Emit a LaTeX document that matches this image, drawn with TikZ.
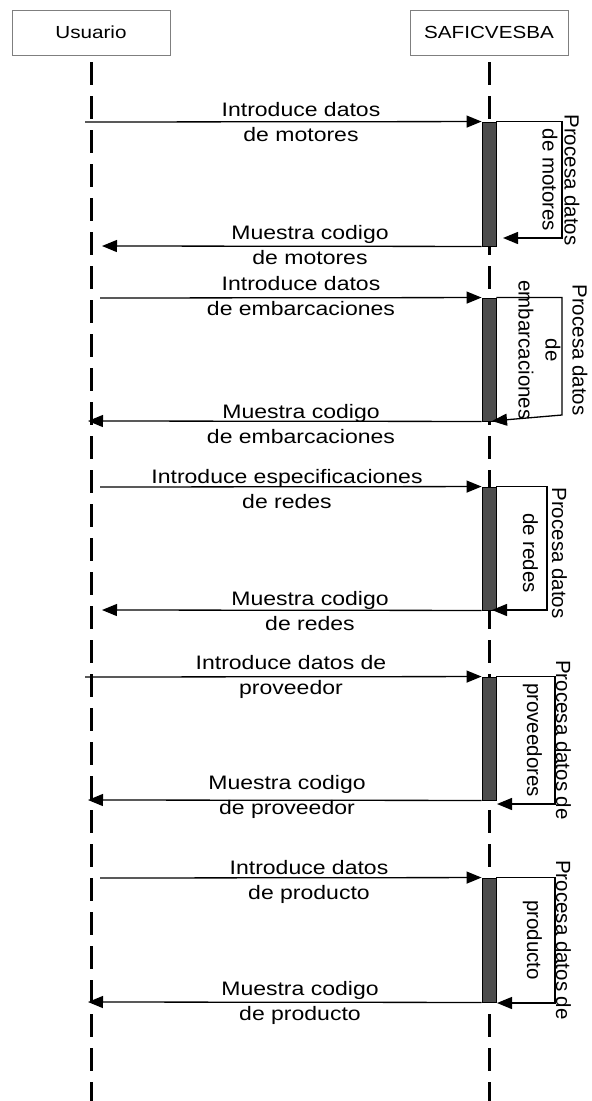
\documentclass[tikz,border=0pt]{standalone}
\usepackage{fontspec}
\setmainfont{Liberation Sans}
\newfontfamily\msgfont[FakeStretch=1.18]{Liberation Sans}
\usetikzlibrary{arrows.meta,positioning}
\definecolor{barfill}{HTML}{4D4D4D}
\definecolor{boxline}{HTML}{7F7F7F}

\begin{document}
\begin{tikzpicture}[x=1pt,y=-1pt,
  actor/.style={draw=boxline,fill=white,line width=0.8pt,minimum width=158pt,minimum height=45pt,inner sep=0pt,font=\msgfont\fontsize{17.5}{21}\selectfont},
  lifeline/.style={line width=3pt,dash pattern=on 23pt off 11pt,dash phase=27pt},
  bar/.style={draw=black,fill=barfill,line width=0.9pt,minimum width=14pt,inner sep=0pt},
  msg/.style={-{Triangle[length=15pt,width=12pt]},line width=1.3pt},
  lbl/.style={font=\msgfont\fontsize{19.5}{25}\selectfont,align=center,inner sep=0pt},
  side/.style={font=\fontsize{20.5}{29}\selectfont,align=center,inner sep=0pt,rotate=-90}]
  \useasboundingbox (0,0) rectangle (592,1101);
  % actors and lifelines
  \node[actor] (usr) at (91,32.5) {Usuario};
  \node[actor] (sys) at (489,32.5) {SAFICVESBA};
  \coordinate (usrend) at (91,1101);
  \draw[lifeline] (usr.south) -- (usrend);
  \draw[lifeline] (sys.south) -- (sys.south |- usrend);
  % activation bars
  \node[bar,minimum height=124pt] (b1) at (489,184) {};
  \node[bar,minimum height=123pt] (b2) at (489,359.5) {};
  \node[bar,minimum height=123pt] (b3) at (489,548.5) {};
  \node[bar,minimum height=123pt] (b4) at (489,738.5) {};
  \node[bar,minimum height=124pt] (b5) at (489,940) {};
  % free ends of the messages
  \coordinate (s1) at (85,122);  \coordinate (r1) at (102,246);
  \coordinate (s2) at (100,298); \coordinate (r2) at (88,421);
  \coordinate (s3) at (100,487); \coordinate (r3) at (102,610);
  \coordinate (s4) at (85,677);  \coordinate (r4) at (88,800);
  \coordinate (s5) at (100,878); \coordinate (r5) at (88,1002);
  \coordinate (k1) at (562,238);  \coordinate (t1) at (503,238);
  \coordinate (k2) at (562,415);  \coordinate (t2) at (492,421);
  \coordinate (k3) at (547,610);  \coordinate (t3) at (492,610);
  \coordinate (k4) at (555,804);  \coordinate (t4) at (497,804);
  \coordinate (k5) at (555,1003); \coordinate (t5) at (497,1003);
  % messages
  \draw[msg] (s1) -- (b1.north west); \draw[msg] (b1.south west) -- (r1);
  \draw[msg] (s2) -- (b2.north west); \draw[msg] (b2.south west) -- (r2);
  \draw[msg] (s3) -- (b3.north west); \draw[msg] (b3.south west) -- (r3);
  \draw[msg] (s4) -- (b4.north west); \draw[msg] (b4.south west) -- (r4);
  \draw[msg] (s5) -- (b5.north west); \draw[msg] (b5.south west) -- (r5);
  \draw[msg] (b1.north east) -| (k1) -- (t1);
  \draw[msg] (b2.north east) -| (k2) -- (t2);
  \draw[msg] (b3.north east) -| (k3) -- (t3);
  \draw[msg] (b4.north east) -| (k4) -- (t4);
  \draw[msg] (b5.north east) -| (k5) -- (t5);
  % message labels
  \node[lbl] (m1) at (301,122) {Introduce datos\\de motores};
  \node[lbl] (n1) at (310,245) {Muestra codigo\\de motores};
  \node[lbl] (m2) at (301,296) {Introduce datos\\de embarcaciones};
  \node[lbl] (n2) at (301,424) {Muestra codigo\\de embarcaciones};
  \node[lbl] (m3) at (287,489) {Introduce especificaciones\\de redes};
  \node[lbl] (n3) at (310,611) {Muestra codigo\\de redes};
  \node[lbl] (m4) at (291,677) {Introduce datos de\\proveedor};
  \node[lbl] (n4) at (287,797) {Muestra codigo\\de proveedor};
  \node[lbl] (m5) at (309,882) {Introduce datos\\de producto};
  \node[lbl] (n5) at (300,1003) {Muestra codigo\\de producto};
  % self messages
  \node[side,font=\fontsize{20.5}{22}\selectfont] (p1) at (561,180) {Procesa datos\\de motores};
  \node[side,font=\fontsize{20.5}{27}\selectfont] (p2) at (553,350) {Procesa datos\\de\\embarcaciones};
  \node[side] (p3) at (545,553) {Procesa datos\\de redes};
  \node[side] (p4) at (547,740) {Procesa datos de\\proveedores};
  \node[side] (p5) at (547,940) {Procesa datos de\\producto};
\end{tikzpicture}
\end{document}
